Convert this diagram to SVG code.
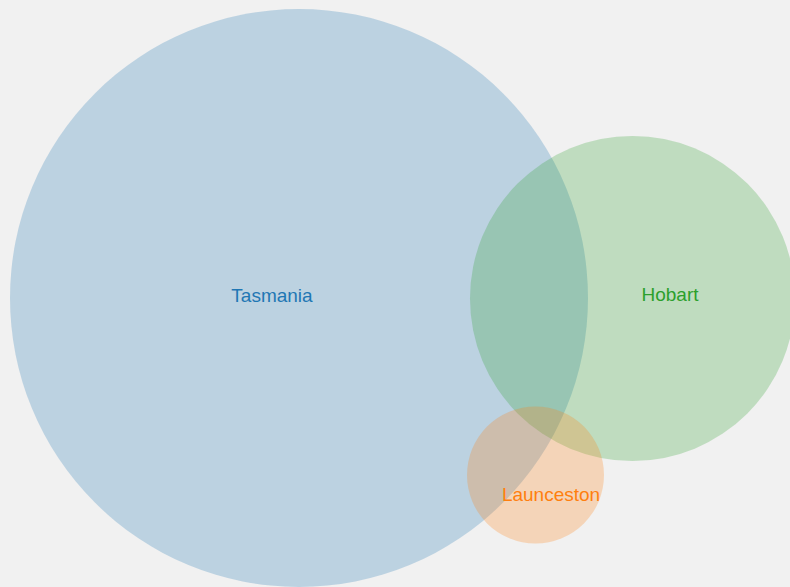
<svg xmlns="http://www.w3.org/2000/svg" width="790" height="587" viewBox="0 0 790 587">
  <style>
    .set { fill-opacity: 0.25; stroke: none; }
    .label { font-family: "Liberation Sans", Arial, sans-serif; font-size: 19px; text-anchor: middle; }
  </style>
  <rect width="790" height="587" fill="#f1f1f1"/>
  <g id="tasmania">
    <circle class="set" cx="299" cy="298" r="289" fill="#1f77b4"/>
  </g>
  <g id="hobart">
    <circle class="set" cx="632.5" cy="298.5" r="162.5" fill="#2ca02c"/>
  </g>
  <g id="launceston">
    <circle class="set" cx="535.5" cy="475" r="68.5" fill="#ff7f0e"/>
  </g>
  <g id="labels">
    <text class="label" x="272" y="302" fill="#1f77b4">Tasmania</text>
    <text class="label" x="670" y="301" fill="#2ca02c">Hobart</text>
    <text class="label" x="551" y="501" fill="#ff7f0e">Launceston</text>
  </g>
  <g id="connectors"/>
</svg>
